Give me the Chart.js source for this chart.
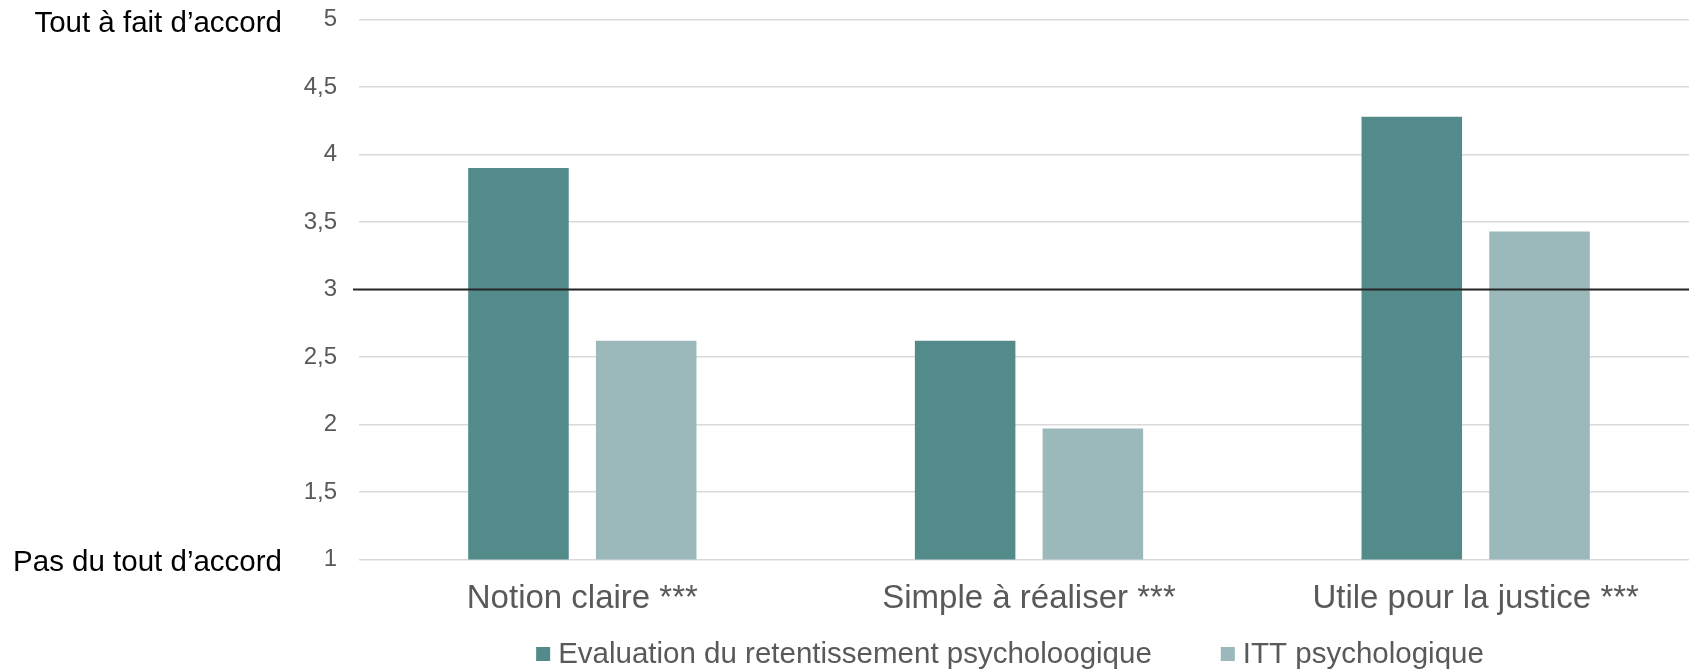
<!DOCTYPE html>
<html>
<head>
<meta charset="utf-8">
<script src="https://cdn.jsdelivr.net/npm/chart.js@4/dist/chart.umd.min.js"></script>
<style>
  html, body { margin: 0; padding: 0; background: #fff; overflow: hidden; }
  #wrap { width: 1699px; height: 672px; }
</style>
</head>
<body>
<div id="wrap"><canvas id="canvas"></canvas></div>
<script>
var categories = ['Notion claire ***', 'Simple à réaliser ***', 'Utile pour la justice ***'];
var seriesNames = ['Evaluation du retentissement psycholoogique', 'ITT psychologique'];
var evalValues = [3.90, 2.62, 4.28];
var ittValues = [2.62, 1.97, 3.43];
var scaleLabels = { top: 'Tout à fait d’accord', bottom: 'Pas du tout d’accord' };
var midLine = 3;

var FONT = '"Liberation Sans", Arial, sans-serif';

// black reference line at 3, the two text labels left of the axis, and the legend row
var extras = {
   id: 'extras',
   afterDatasetsDraw: function(chart) {
      var ctx = chart.ctx;
      var y = chart.scales.y;
      var area = chart.chartArea;
      var yMid = y.getPixelForValue(midLine);
      ctx.save();
      ctx.strokeStyle = '#262626';
      ctx.lineWidth = 2;
      ctx.beginPath();
      ctx.moveTo(area.left - 6, yMid);
      ctx.lineTo(area.right, yMid);
      ctx.stroke();

      ctx.fillStyle = '#000';
      ctx.font = '29.5px ' + FONT;
      ctx.textAlign = 'right';
      ctx.textBaseline = 'middle';
      ctx.fillText(scaleLabels.top, 282, y.getPixelForValue(5) + 4);
      ctx.fillText(scaleLabels.bottom, 282, y.getPixelForValue(1) + 3);

      // legend
      var ds = chart.data.datasets;
      var box = 14, gapText = 8, gapItem = 69;
      ctx.font = '29.5px ' + FONT;
      var widths = ds.map(function(d) { return ctx.measureText(d.label).width; });
      var total = 0;
      widths.forEach(function(w, i) { total += box + gapText + w + (i ? gapItem : 0); });
      var x = 1010 - total / 2;
      var ly = 654;
      ctx.textAlign = 'left';
      ds.forEach(function(d, i) {
         ctx.fillStyle = d.backgroundColor;
         ctx.fillRect(x, ly - box / 2, box, box);
         ctx.fillStyle = '#595959';
         ctx.fillText(d.label, x + box + gapText, ly + 1);
         x += box + gapText + widths[i] + gapItem;
      });
      ctx.restore();
   }
};

var config = {
   type: 'bar',
   data: {
      labels: categories,
      datasets: [{
         label: seriesNames[0],
         data: evalValues,
         backgroundColor: '#538a8a',
         categoryPercentage: 0.572,
         barPercentage: 0.787
      }, {
         label: seriesNames[1],
         data: ittValues,
         backgroundColor: '#9bb9ba',
         categoryPercentage: 0.572,
         barPercentage: 0.787
      }]
   },
   options: {
      responsive: true,
      maintainAspectRatio: false,
      animation: false,
      layout: {
         padding: { left: 270, right: 0, top: 19.5, bottom: 33 }
      },
      plugins: {
         tooltip: { enabled: false },
         legend: { display: false }
      },
      scales: {
         x: {
            grid: { display: false, drawTicks: false },
            border: { display: false },
            ticks: {
               color: '#595959',
               padding: 20,
               font: { family: FONT, size: 33 }
            }
         },
         y: {
            min: 1,
            max: 5,
            afterFit: function(scale) { scale.width = 89; },
            grid: { color: '#d9d9d9', lineWidth: 1.5, tickLength: 22, tickColor: 'rgba(0,0,0,0)' },
            border: { display: false },
            ticks: {
               stepSize: 0.5,
               padding: 0,
               color: '#595959',
               font: { family: FONT, size: 24 },
               callback: function(v) { return String(v).replace('.', ','); }
            }
         }
      }
   },
   plugins: [extras]
};

window.barChart = new Chart(document.getElementById('canvas'), config);
</script>
</body>
</html>
